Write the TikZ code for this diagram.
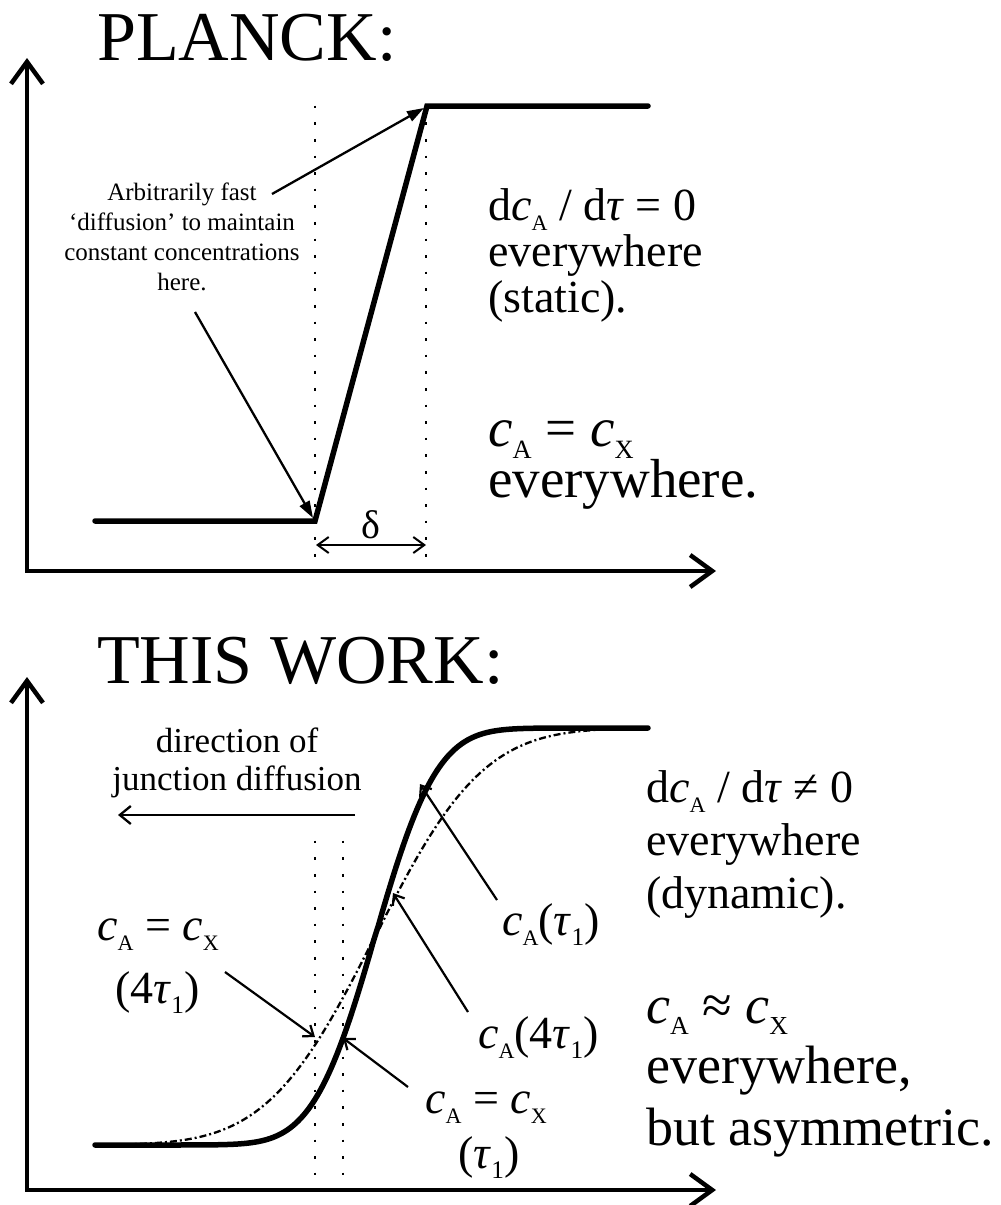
\documentclass[tikz,border=0pt]{standalone}
\usepackage{fontspec}
\setmainfont{Liberation Serif}
\usepackage{graphicx}
\usetikzlibrary{arrows.meta}
\newcommand{\fsz}[1]{\fontsize{#1}{#1}\selectfont}
\newcommand{\lsub}[1]{\smash{\raisebox{-0.22em}{\scalebox{0.48}{#1}}}}
\newcommand{\osub}[1]{\smash{\raisebox{-0.22em}{\scalebox{0.55}{#1}}}}
\newcommand{\myc}{\textit{c}}
\newcommand{\mytau}{\textit{τ}}
\tikzset{
  axisline/.style={line width=4.5pt, line join=miter,
    {Straight Barb[length=22pt,width=32pt]}-{Straight Barb[length=22pt,width=32pt]}},
  thickcurve/.style={line width=5.5pt, line cap=round, line join=miter},
  dotline/.style={line width=2.6pt, dash pattern=on 2.6pt off 14pt},
  ann/.style={line width=2.3pt, -{Triangle[length=17pt,width=11pt]}},
  annopen/.style={line width=2.2pt, -{Straight Barb[length=9pt,width=14pt]}},
  dimarr/.style={line width=2pt, {Straight Barb[length=11pt,width=16pt]}-{Straight Barb[length=11pt,width=16pt]}},
  dashdot/.style={line width=2.3pt, dash pattern=on 7pt off 3pt on 2pt off 3pt},
  lbl/.style={inner sep=0pt, anchor=base west},
  ctr/.style={inner sep=0pt, anchor=base},
  declare function={erfa(\z)=sign(\z)*sqrt(abs(1-exp(-\z*\z*(1.27324+0.147*\z*\z)/(1+0.147*\z*\z))));}
}
\begin{document}
\begin{tikzpicture}[x=1pt,y=-1pt]
\useasboundingbox (0,0) rectangle (1001,1205);
\fill[white] (0,0) rectangle (1001,1205);

% ================= TOP PANEL =================
\node[lbl, font=\fsz{70}] (title1) at (97,60) {PLANCK:};
\coordinate (y1) at (27,58);
\coordinate (o1) at (27,571);
\coordinate (x1) at (716,571);
\draw[axisline] (y1) -- (o1) -- (x1);

\draw[dotline] (315,105.7) -- (315,557);
\draw[dotline] (426,122.3) -- (426,557);

\coordinate (pa) at (95,521);
\coordinate (pb) at (315,521);
\coordinate (pc) at (427,106);
\coordinate (pd) at (648,106);
\draw[thickcurve] (pa) -- (pb) -- (pc) -- (pd);

\coordinate (d1) at (316,545);
\coordinate (d2) at (426,545);
\draw[dimarr] (d1) -- (d2);
\node[ctr, font=\fsz{40}] (delta) at (371,538) {δ};

\node[ctr, font=\fsz{25}] (n1) at (182,200) {Arbitrarily fast};
\node[ctr, font=\fsz{25}] (n2) at (182,230) {‘diffusion’ to maintain};
\node[ctr, font=\fsz{25}] (n3) at (182,260) {constant concentrations};
\node[ctr, font=\fsz{25}] (n4) at (182,290) {here.};
\coordinate (a1s) at (272,194);
\coordinate (a1e) at (424,108);
\draw[ann] (a1s) -- (a1e);
\coordinate (a2s) at (195,312);
\coordinate (a2e) at (313,518);
\draw[ann] (a2s) -- (a2e);

\node[lbl, font=\fsz{46}] (r1) at (488,220) {d\myc\lsub{A} / d\mytau{} = 0};
\node[lbl, font=\fsz{46}] (r2) at (488,266) {everywhere};
\node[lbl, font=\fsz{46}] (r3) at (488,312) {(static).};
\node[lbl, font=\fsz{55}] (r4) at (488,446) {\myc\lsub{A} = \myc\lsub{X}};
\node[lbl, font=\fsz{55}] (r5) at (488,497) {everywhere.};

% ================= BOTTOM PANEL =================
\node[lbl, font=\fsz{70}] (title2) at (97,683) {THIS WORK:};
\coordinate (y2) at (27,677);
\coordinate (o2) at (27,1190);
\coordinate (x2) at (716,1190);
\draw[axisline] (y2) -- (o2) -- (x2);

\draw[dotline] (315,840.7) -- (315,1175);
\draw[dotline] (343,840.7) -- (343,1175);

\draw[dashdot] plot[domain=95:648, samples=200] (\x, {936.5-208.5*erfa((\x-375)/120)});
\draw[thickcurve] plot[domain=95:648, samples=200] (\x, {936.5-208.5*erfa((\x-375)/69)});

\node[ctr, font=\fsz{35}] (dir1) at (237,752) {direction of};
\node[ctr, font=\fsz{35}] (dir2) at (237,790) {junction diffusion};
\coordinate (dirA) at (355,815);
\coordinate (dirB) at (118,815);
\draw[line width=2.3pt, -{Straight Barb[length=11pt,width=18pt]}] (dirA) -- (dirB);

\node[lbl, font=\fsz{46}] (l1) at (97,940) {\myc\lsub{A} = \myc\lsub{X}};
\node[lbl, font=\fsz{46}] (l2) at (115,1003) {(4\mytau\osub{1})};
\coordinate (b1s) at (225,972);
\coordinate (b1e) at (315,1037);
\draw[annopen] (b1s) -- (b1e);

\node[lbl, font=\fsz{46}] (m1) at (502,935) {\myc\lsub{A}(\mytau\osub{1})};
\coordinate (b2s) at (497,900);
\coordinate (b2e) at (420,784);
\draw[annopen] (b2s) -- (b2e);

\node[lbl, font=\fsz{46}] (m2) at (478,1048) {\myc\lsub{A}(4\mytau\osub{1})};
\coordinate (b3s) at (468,1012);
\coordinate (b3e) at (393,893);
\draw[annopen] (b3s) -- (b3e);

\node[lbl, font=\fsz{46}] (m3) at (425,1113) {\myc\lsub{A} = \myc\lsub{X}};
\node[lbl, font=\fsz{46}] (m4) at (458,1168) {(\mytau\osub{1})};
\coordinate (b4s) at (408,1087);
\coordinate (b4e) at (343,1038);
\draw[annopen] (b4s) -- (b4e);

\node[lbl, font=\fsz{46}] (s1) at (646,802) {d\myc\lsub{A} / d\mytau{} ≠ 0};
\node[lbl, font=\fsz{46}] (s2) at (646,855) {everywhere};
\node[lbl, font=\fsz{46}] (s3) at (646,908) {(dynamic).};
\node[lbl, font=\fsz{54}] (s4) at (646,1023) {\myc\lsub{A} ≈ \myc\lsub{X}};
\node[lbl, font=\fsz{54}] (s5) at (646,1083) {everywhere,};
\node[lbl, font=\fsz{54}] (s6) at (646,1145) {but asymmetric.};
\end{tikzpicture}
\end{document}
